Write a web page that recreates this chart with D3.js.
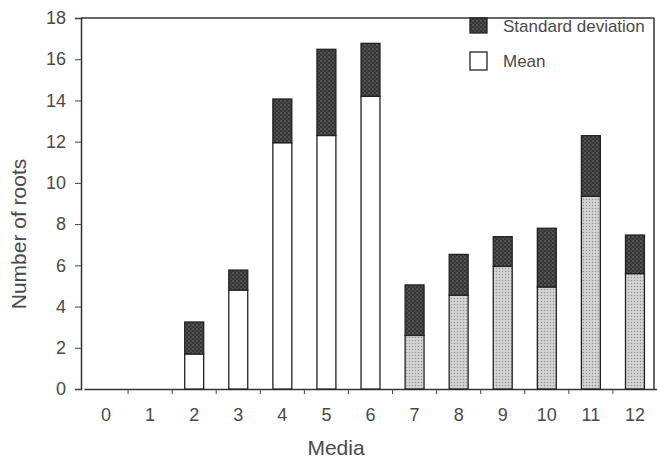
<!DOCTYPE html>
<html>
<head>
<meta charset="utf-8">
<script src="https://cdn.jsdelivr.net/npm/d3@7"></script>
<style>
  body { margin: 0; background: #fff; }
  svg { display: block; }
  text { font-family: "Liberation Sans", Arial, sans-serif; fill: #4a4a4a; }
</style>
</head>
<body>
<div id="chart"></div>
<script>
// Data
var media = ["0", "1", "2", "3", "4", "5", "6", "7", "8", "9", "10", "11", "12"];
var meanRoots = [0, 0, 1.7, 4.8, 11.95, 12.3, 14.2, 2.6, 4.55, 5.95, 4.95, 9.35, 5.6];
var sdRoots = [0, 0, 1.55, 0.97, 2.12, 4.18, 2.57, 2.45, 1.98, 1.44, 2.85, 2.94, 1.87];
var yTicks = [0, 2, 4, 6, 8, 10, 12, 14, 16, 18];

var width = 657, height = 460;
var svg = d3.select("#chart").append("svg")
    .attr("width", width)
    .attr("height", height);

// stipple patterns
var defs = svg.append("defs");
var dark = defs.append("pattern")
    .attr("id", "dark").attr("patternUnits", "userSpaceOnUse")
    .attr("width", 4).attr("height", 4);
dark.append("rect").attr("width", 4).attr("height", 4).attr("fill", "#363636");
dark.append("circle").attr("cx", 1).attr("cy", 1).attr("r", 0.8).attr("fill", "#777");
dark.append("circle").attr("cx", 3).attr("cy", 3).attr("r", 0.8).attr("fill", "#5e5e5e");

var light = defs.append("pattern")
    .attr("id", "light").attr("patternUnits", "userSpaceOnUse")
    .attr("width", 3).attr("height", 3);
light.append("rect").attr("width", 3).attr("height", 3).attr("fill", "#d4d4d4");
light.append("circle").attr("cx", 1.5).attr("cy", 1.5).attr("r", 0.75).attr("fill", "#949494");

var x = d3.scaleBand()
    .domain(media)
    .range([84, 657])
    .paddingInner(0.57)
    .paddingOuter(0.285);

var y = d3.scaleLinear()
    .domain([0, 18])
    .range([389, 18]);

var shadedFrom = 7; // media 7-12 have a stippled mean bar

// frame: top and right
svg.append("line").attr("x1", 81).attr("x2", 654).attr("y1", y(18)).attr("y2", y(18))
    .attr("stroke", "#333").attr("stroke-width", 1.5);
svg.append("line").attr("x1", 654).attr("x2", 654).attr("y1", y(18)).attr("y2", y(0))
    .attr("stroke", "#333").attr("stroke-width", 1.5);

// Y axis
var yAxis = svg.append("g")
    .attr("transform", "translate(81,0)")
    .call(d3.axisLeft(y).tickValues(yTicks).tickSize(6).tickPadding(9));
yAxis.select(".domain").attr("stroke", "#333").attr("stroke-width", 1.5);
yAxis.selectAll(".tick line").attr("stroke", "#444");
yAxis.selectAll(".tick text").style("font-size", "18px").attr("fill", "#4a4a4a");

// X axis
var xAxis = svg.append("g")
    .attr("transform", "translate(0," + y(0) + ")")
    .call(d3.axisBottom(x).tickSize(0).tickPadding(19));
xAxis.select(".domain").attr("stroke", "#333").attr("stroke-width", 1.5);
xAxis.selectAll(".tick text").style("font-size", "18px").attr("fill", "#4a4a4a");

// small ticks between categories
svg.append("g").selectAll("line")
    .data(media.slice(0, -1))
    .enter()
    .append("line")
    .attr("x1", function(d) { return x(d) + x.bandwidth() / 2 + x.step() / 2; })
    .attr("x2", function(d) { return x(d) + x.bandwidth() / 2 + x.step() / 2; })
    .attr("y1", y(0))
    .attr("y2", y(0) + 5)
    .attr("stroke", "#444");

// mean bars
svg.append("g").selectAll("rect")
    .data(media)
    .enter()
    .filter(function(d, i) { return meanRoots[i] > 0; })
    .append("rect")
    .attr("x", function(d) { return x(d); })
    .attr("y", function(d) { return y(meanRoots[media.indexOf(d)]); })
    .attr("width", x.bandwidth())
    .attr("height", function(d) { return y(0) - y(meanRoots[media.indexOf(d)]); })
    .attr("fill", function(d) { return media.indexOf(d) >= shadedFrom ? "url(#light)" : "#fff"; })
    .attr("stroke", "#222")
    .attr("stroke-width", 1.3);

// standard deviation stacked on top
svg.append("g").selectAll("rect")
    .data(media)
    .enter()
    .filter(function(d, i) { return sdRoots[i] > 0; })
    .append("rect")
    .attr("x", function(d) { return x(d); })
    .attr("y", function(d) { var i = media.indexOf(d); return y(meanRoots[i] + sdRoots[i]); })
    .attr("width", x.bandwidth())
    .attr("height", function(d) { var i = media.indexOf(d); return y(meanRoots[i]) - y(meanRoots[i] + sdRoots[i]); })
    .attr("fill", "url(#dark)")
    .attr("stroke", "#222")
    .attr("stroke-width", 1.3);

// axis titles
svg.append("text")
    .attr("transform", "translate(26," + 234 + ") rotate(-90)")
    .attr("text-anchor", "middle")
    .style("font-size", "21px")
    .text("Number of roots");

svg.append("text")
    .attr("x", 336)
    .attr("y", 455)
    .attr("text-anchor", "middle")
    .style("font-size", "21px")
    .text("Media");

// legend
var legend = [
    {label: "Standard deviation", fill: "url(#dark)", y: 18, h: 15},
    {label: "Mean", fill: "#fff", y: 52, h: 18}
];
var lg = svg.append("g");
lg.selectAll("rect")
    .data(legend)
    .enter()
    .append("rect")
    .attr("x", 470)
    .attr("y", function(d) { return d.y; })
    .attr("width", 17)
    .attr("height", function(d) { return d.h; })
    .attr("fill", function(d) { return d.fill; })
    .attr("stroke", "#222")
    .attr("stroke-width", 1.3);
lg.selectAll("text")
    .data(legend)
    .enter()
    .append("text")
    .attr("x", 503)
    .attr("y", function(d) { return d.y + d.h / 2 + 6; })
    .style("font-size", "17px")
    .text(function(d) { return d.label; });
</script>
</body>
</html>
